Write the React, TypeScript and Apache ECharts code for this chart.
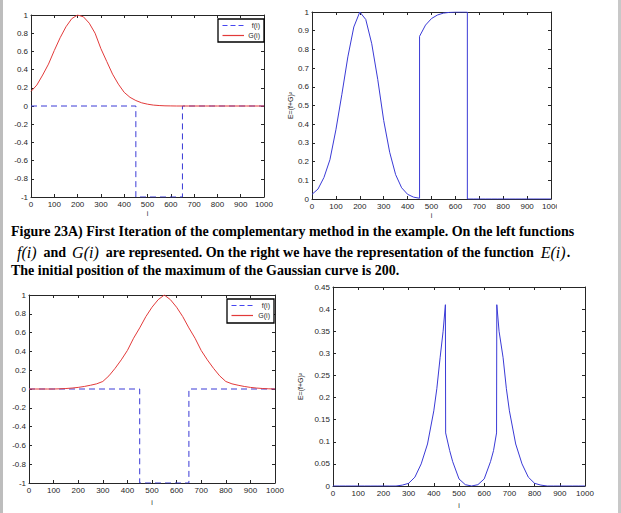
import React, { useEffect, useRef } from 'react';
import * as echarts from 'echarts';

// sample positions (i)
const sampleI = [0, 25, 50, 75, 100, 125, 150, 175, 200, 225, 250, 275, 300, 325, 350, 375, 400, 425, 450, 475, 500, 525, 550, 575, 600, 625, 650, 675, 700, 725, 750, 775, 800, 825, 850, 875, 900, 925, 950, 975, 1000];

// first iteration: Gaussian G(i) centred near 200
const g1Values = [0.16, 0.23, 0.34, 0.46, 0.61, 0.75, 0.87, 0.96, 1.0, 0.98, 0.91, 0.8, 0.63, 0.49, 0.35, 0.24, 0.15, 0.095, 0.06, 0.035, 0.02, 0.01, 0.005, 0.002, 0.001, 0, 0, 0, 0, 0, 0, 0, 0, 0, 0, 0, 0, 0, 0, 0, 0];

// second case: Gaussian G(i) centred near 550
const g2Values = [0, 0, 0, 0, 0, 0.002, 0.005, 0.01, 0.017, 0.027, 0.04, 0.055, 0.08, 0.14, 0.22, 0.31, 0.41, 0.54, 0.65, 0.77, 0.87, 0.95, 1.0, 0.95, 0.87, 0.77, 0.65, 0.54, 0.41, 0.31, 0.22, 0.14, 0.08, 0.055, 0.04, 0.027, 0.017, 0.01, 0.005, 0.002, 0];

// step function f(i)
const fSteps = [0, 450, 450, 650, 650, 1000];
const fValues = [0, 0, -1, -1, 0, 0];

// E(i) for the first iteration
const e1Steps = [0, 25, 50, 75, 100, 125, 150, 175, 200, 225, 250, 275, 300, 325, 350, 375, 400, 425, 450, 450, 475, 500, 525, 550, 575, 600, 625, 650, 650, 675, 700, 725, 750, 775, 800, 825, 850, 875, 900, 925, 950, 975, 1000];
const e1Values = [0.025, 0.053, 0.115, 0.21, 0.37, 0.56, 0.76, 0.92, 1.0, 0.96, 0.83, 0.64, 0.42, 0.25, 0.13, 0.06, 0.025, 0.01, 0.004, 0.87, 0.93, 0.965, 0.984, 0.994, 0.998, 1, 1, 1, 0, 0, 0, 0, 0, 0, 0, 0, 0, 0, 0, 0, 0, 0, 0];

// E(i) for the second case
const e2Steps = [0, 25, 50, 75, 100, 125, 150, 175, 200, 225, 250, 275, 300, 325, 350, 375, 400, 412, 425, 437, 446, 447, 463, 475, 500, 525, 550, 575, 600, 625, 637, 649, 650, 659, 675, 688, 700, 725, 750, 775, 800, 825, 850, 875, 900, 925, 950, 975, 1000];
const e2Values = [0, 0, 0, 0, 0, 0, 0, 0, 0, 0, 0, 0.002, 0.006, 0.02, 0.05, 0.095, 0.17, 0.22, 0.29, 0.35, 0.41, 0.12, 0.08, 0.055, 0.016, 0.003, 0, 0.003, 0.016, 0.055, 0.08, 0.12, 0.41, 0.35, 0.29, 0.22, 0.17, 0.095, 0.05, 0.02, 0.006, 0.002, 0, 0, 0, 0, 0, 0, 0];

const legendNames = ['f(i)', 'G(i)'];
const eAxisName = 'E=(f+G)²';
const xAxisName = 'i';

const captionLine1 = 'Figure 23A) First Iteration of the complementary method in the example. On the left functions';
const captionLine3 = 'The initial position of the maximum of the Gaussian curve is 200.';

const BLUE = '#3a3ad6';
const LEGEND_BLUE = '#4646f0';
const RED = '#e23a3a';
const AX = '#262626';
const FONT = '"Liberation Sans", Arial, sans-serif';
const SERIF = '"Liberation Serif", "Times New Roman", serif';

const pairs = (xs: number[], ys: number[]) => xs.map((x, k) => [x, ys[k]]);
const fmt = (v: number) => String(Math.round(v * 1000) / 1000);

function makeX(gridIndex: number, labels: boolean, position: 'bottom' | 'top', nameGap: number) {
  return {
    type: 'value', gridIndex, position, min: 0, max: 1000, interval: 100,
    name: labels ? xAxisName : '', nameLocation: 'middle', nameGap,
    nameTextStyle: { fontSize: 7, color: AX, fontFamily: FONT },
    axisLine: { show: true, onZero: false, lineStyle: { color: AX, width: 1 } },
    axisTick: { show: true, inside: true, length: 3, lineStyle: { color: AX } },
    axisLabel: { show: labels, fontSize: 8, color: AX, margin: 3, fontFamily: FONT, hideOverlap: false, formatter: fmt },
    splitLine: { show: false },
  };
}

function makeY(gridIndex: number, labels: boolean, position: 'left' | 'right', min: number, max: number, interval: number, name: string, nameGap: number) {
  return {
    type: 'value', gridIndex, position, min, max, interval,
    name: labels ? name : '', nameLocation: 'middle', nameGap, nameRotate: 90,
    nameTextStyle: { fontSize: 7, color: AX, fontFamily: FONT },
    axisLine: { show: true, onZero: false, lineStyle: { color: AX, width: 1 } },
    axisTick: { show: true, inside: true, length: 3, lineStyle: { color: AX } },
    axisLabel: { show: labels, fontSize: 8, color: AX, margin: 3, fontFamily: FONT, hideOverlap: false, formatter: fmt },
    splitLine: { show: false },
  };
}

function legendBox(x: number, y: number, w: number, h: number) {
  return [
    { type: 'rect', z: 100, shape: { x, y, width: w, height: h }, style: { fill: '#fff', stroke: '#000', lineWidth: 1.3 } },
    { type: 'polyline', z: 101, shape: { points: [[x + 4.5, y + 6.5], [x + 26, y + 6.5]] }, style: { stroke: LEGEND_BLUE, fill: 'none', lineWidth: 1.2, lineDash: [5, 3] } },
    { type: 'text', z: 101, x: x + w - 4, y: y + 6.5, style: { text: legendNames[0], fontFamily: FONT, fontSize: 7, fill: AX, align: 'right', verticalAlign: 'middle' } },
    { type: 'polyline', z: 101, shape: { points: [[x + 4.5, y + 16.5], [x + 26, y + 16.5]] }, style: { stroke: RED, fill: 'none', lineWidth: 1.2 } },
    { type: 'text', z: 101, x: x + w - 4, y: y + 16.5, style: { text: legendNames[1], fontFamily: FONT, fontSize: 7, fill: AX, align: 'right', verticalAlign: 'middle' } },
  ];
}

export default function App() {
  const ref = useRef<HTMLDivElement>(null);
  useEffect(() => {
    if (!ref.current) return;
    const chart = echarts.init(ref.current, undefined, { renderer: 'svg' });
    const lineBase = { type: 'line', showSymbol: false, symbol: 'none', smooth: false };
    chart.setOption({
      animation: false,
      backgroundColor: '#fff',
      grid: [
        { left: 31, top: 15, width: 233, height: 182, outerBoundsMode: 'none' },
        { left: 312, top: 12, width: 239, height: 187, outerBoundsMode: 'none' },
        { left: 29, top: 295, width: 246, height: 188, outerBoundsMode: 'none' },
        { left: 333, top: 287, width: 252, height: 199, outerBoundsMode: 'none' },
      ],
      xAxis: [
        makeX(0, true, 'bottom', 13), makeX(0, false, 'top', 10),
        makeX(1, true, 'bottom', 13), makeX(1, false, 'top', 10),
        makeX(2, true, 'bottom', 16), makeX(2, false, 'top', 10),
        makeX(3, true, 'bottom', 16), makeX(3, false, 'top', 10),
      ],
      yAxis: [
        makeY(0, true, 'left', -1, 1, 0.2, '', 20), makeY(0, false, 'right', -1, 1, 0.2, '', 20),
        makeY(1, true, 'left', 0, 1, 0.1, eAxisName, 18), makeY(1, false, 'right', 0, 1, 0.1, '', 20),
        makeY(2, true, 'left', -1, 1, 0.2, '', 20), makeY(2, false, 'right', -1, 1, 0.2, '', 20),
        makeY(3, true, 'left', 0, 0.45, 0.05, eAxisName, 29), makeY(3, false, 'right', 0, 0.45, 0.05, '', 20),
      ],
      series: [
        { ...lineBase, name: 'f(i)', xAxisIndex: 0, yAxisIndex: 0, data: pairs(fSteps, fValues), lineStyle: { color: BLUE, width: 1, type: [6, 4] }, itemStyle: { color: BLUE } },
        { ...lineBase, name: 'G(i)', xAxisIndex: 0, yAxisIndex: 0, data: pairs(sampleI, g1Values), lineStyle: { color: RED, width: 1 }, itemStyle: { color: RED } },
        { ...lineBase, name: 'E1', xAxisIndex: 2, yAxisIndex: 2, data: pairs(e1Steps, e1Values), lineStyle: { color: BLUE, width: 1 }, itemStyle: { color: BLUE } },
        { ...lineBase, name: 'f(i)', xAxisIndex: 4, yAxisIndex: 4, data: pairs(fSteps, fValues), lineStyle: { color: BLUE, width: 1, type: [6, 4] }, itemStyle: { color: BLUE } },
        { ...lineBase, name: 'G(i)', xAxisIndex: 4, yAxisIndex: 4, data: pairs(sampleI, g2Values), lineStyle: { color: RED, width: 1 }, itemStyle: { color: RED } },
        { ...lineBase, name: 'E2', xAxisIndex: 6, yAxisIndex: 6, data: pairs(e2Steps, e2Values), lineStyle: { color: BLUE, width: 1 }, itemStyle: { color: BLUE } },
      ],
      graphic: [
        ...legendBox(218, 19, 46, 23),
        ...legendBox(227, 299, 47, 24),
        { type: 'rect', z: 100, shape: { x: 0, y: 0, width: 3, height: 513 }, style: { fill: '#bdbdbd' } },
        { type: 'rect', z: 100, shape: { x: 618, y: 0, width: 3, height: 513 }, style: { fill: '#c8c8c8' } },
        { type: 'rect', z: 99, shape: { x: 557, y: 200, width: 60, height: 14 }, style: { fill: '#fff' } },
        {
          type: 'text', z: 100, x: 11, y: 231,
          style: { text: captionLine1, fontFamily: SERIF, fontWeight: 'bold', fontSize: 14, fill: '#000', verticalAlign: 'middle' },
        },
        {
          type: 'text', z: 100, x: 11, y: 252,
          style: {
            text: '{m|f(i)}{b|and}{m|G(i)}{b|are represented. On the right we have the representation of the function}{e|E(i)}{b|.}',
            fontFamily: SERIF, fontWeight: 'bold', fontSize: 14, fill: '#000', verticalAlign: 'middle',
            rich: {
              b: { fontFamily: SERIF, fontWeight: 'bold', fontSize: 14, fill: '#000' },
              m: { fontFamily: SERIF, fontStyle: 'italic', fontWeight: 'normal', fontSize: 16, fill: '#000', padding: [0, 7, 0, 6] },
              e: { fontFamily: SERIF, fontStyle: 'italic', fontWeight: 'normal', fontSize: 16, fill: '#000', padding: [0, 1, 0, 7] },
            },
          },
        },
        {
          type: 'text', z: 100, x: 11, y: 270,
          style: { text: captionLine3, fontFamily: SERIF, fontWeight: 'bold', fontSize: 14, fill: '#000', verticalAlign: 'middle' },
        },
      ],
    });
    return () => chart.dispose();
  }, []);
  return <div ref={ref} style={{ position: 'absolute', left: 0, top: 0, width: 621, height: 513 }} />;
}
